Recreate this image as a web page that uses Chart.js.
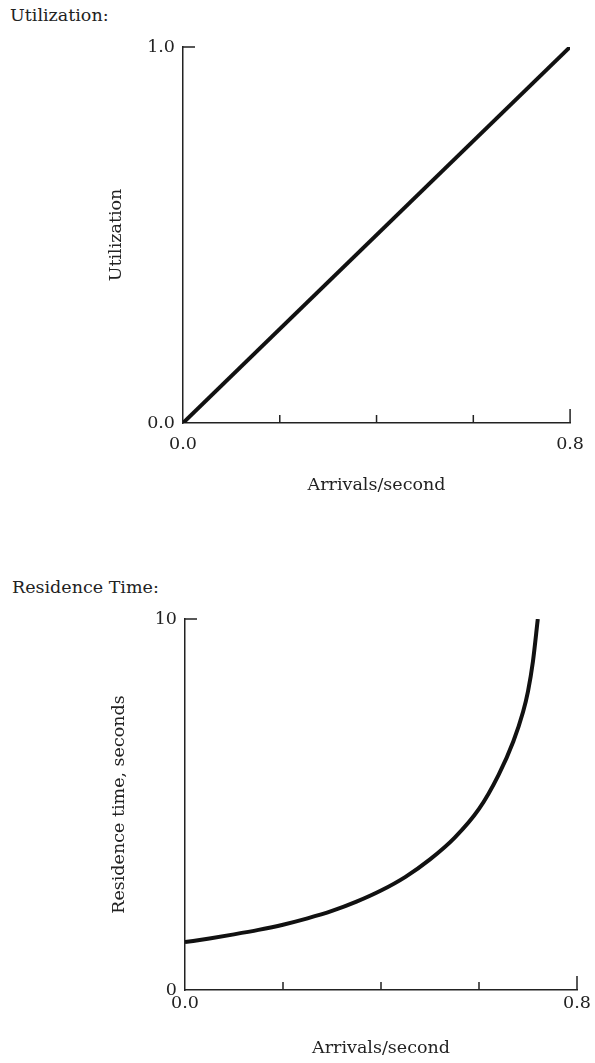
<!DOCTYPE html>
<html>
<head>
<meta charset="utf-8">
<script src="https://cdn.jsdelivr.net/npm/chart.js@4"></script>
<style>
  body { margin: 0; background: #fff; width: 595px; height: 1063px; position: relative; overflow: hidden; }
  .heading { position: absolute; font-family: "DejaVu Serif", serif; font-size: 17.5px; color: #222; line-height: 20px; }
  canvas { position: absolute; left: 0; }
</style>
</head>
<body>
<div class="heading" style="left:10px; top:5px;">Utilization:</div>
<canvas id="utilChart" width="595" height="525" style="top:0px;"></canvas>
<div class="heading" style="left:12px; top:577px;">Residence Time:</div>
<canvas id="resChart" width="595" height="523" style="top:540px;"></canvas>

<script>
// Utilization vs arrival rate
const utilArrivals = [0.0, 0.8];
const utilValues = [0.0, 1.0];

// Residence time vs arrival rate
const resArrivals = [0.0, 0.05, 0.10, 0.15, 0.20, 0.25, 0.30, 0.35, 0.40, 0.45, 0.50, 0.55, 0.60, 0.64, 0.67, 0.69, 0.70, 0.71, 0.72];
const resTimes = [1.29, 1.39, 1.50, 1.62, 1.76, 1.93, 2.13, 2.38, 2.68, 3.05, 3.52, 4.10, 4.88, 5.80, 6.70, 7.50, 8.05, 8.85, 10.0];

// axis ticks
const xTickMarks = [0.2, 0.4, 0.6, 0.8];
const xTickLabels = [0.0, 0.8];
const utilTickLabels = [0.0, 1.0];
const resTickLabels = [0, 10];

const serif = { family: "DejaVu Serif", size: 17.5 };
const ink = "#222";

// little inward tick marks like the original drawing
const tickMarks = {
  id: "tickMarks",
  afterDraw(chart) {
    const { ctx, scales: { x, y } } = chart;
    ctx.save();
    ctx.strokeStyle = ink;
    ctx.lineWidth = 1.5;
    ctx.beginPath();
    xTickMarks.forEach((v, i) => {
      const px = x.getPixelForValue(v);
      const len = i === xTickMarks.length - 1 ? 14 : 8;
      ctx.moveTo(px, y.bottom);
      ctx.lineTo(px, y.bottom - len);
    });
    const py = y.getPixelForValue(y.max);
    ctx.moveTo(x.left, py);
    ctx.lineTo(x.left + 12, py);
    ctx.stroke();
    ctx.restore();
  },
};

function makePlot(id, xs, ys, cfg) {
  const ctx = document.getElementById(id).getContext("2d");
  return new Chart(ctx, {
    type: "scatter",
    data: {
      datasets: [
        {
          data: xs.map((x, i) => ({ x, y: ys[i] })),
          showLine: true,
          borderColor: "#111",
          borderWidth: 4,
          pointRadius: 0,
          cubicInterpolationMode: "monotone",
        },
      ],
    },
    options: {
      responsive: false,
      animation: false,
      events: [],
      layout: { padding: cfg.padding },
      plugins: { legend: { display: false }, tooltip: { enabled: false } },
      scales: {
        x: {
          type: "linear",
          min: 0,
          max: 0.8,
          grid: { display: false, drawTicks: false },
          border: { color: ink, width: 1.5 },
          afterBuildTicks: (s) => { s.ticks = xTickLabels.map((value) => ({ value })); },
          ticks: { padding: cfg.xPad, font: serif, color: ink, maxRotation: 0, autoSkip: false,
                   callback: (v) => v.toFixed(1) },
          title: { display: true, text: "Arrivals/second", font: serif, color: ink, padding: 0 },
          afterFit: (s) => { s.height = cfg.xHeight; },
        },
        y: {
          type: "linear",
          min: 0,
          max: cfg.yMax,
          grid: { display: false, drawTicks: false },
          border: { color: ink, width: 1.5 },
          afterBuildTicks: (s) => { s.ticks = cfg.yTicks.map((value) => ({ value })); },
          ticks: { padding: 8, font: serif, color: ink, autoSkip: false, callback: cfg.yFormat },
          title: { display: true, text: cfg.yTitle, font: serif, color: ink, padding: 0 },
          afterFit: (s) => { s.width = cfg.yWidth; },
        },
      },
    },
    plugins: [tickMarks],
  });
}

makePlot("utilChart", utilArrivals, utilValues, {
  padding: { left: 106, right: 22, top: 47, bottom: 29 },
  xPad: 11,
  xHeight: 73,
  yWidth: 77,
  yMax: 1.0,
  yTicks: utilTickLabels,
  yFormat: (v) => v.toFixed(1),
  yTitle: "Utilization",
});

makePlot("resChart", resArrivals, resTimes, {
  padding: { left: 109, right: 18, top: 79, bottom: 4 },
  xPad: 3,
  xHeight: 69,
  yWidth: 76,
  yMax: 10,
  yTicks: resTickLabels,
  yFormat: (v) => String(v),
  yTitle: "Residence time, seconds",
});
</script>
</body>
</html>
